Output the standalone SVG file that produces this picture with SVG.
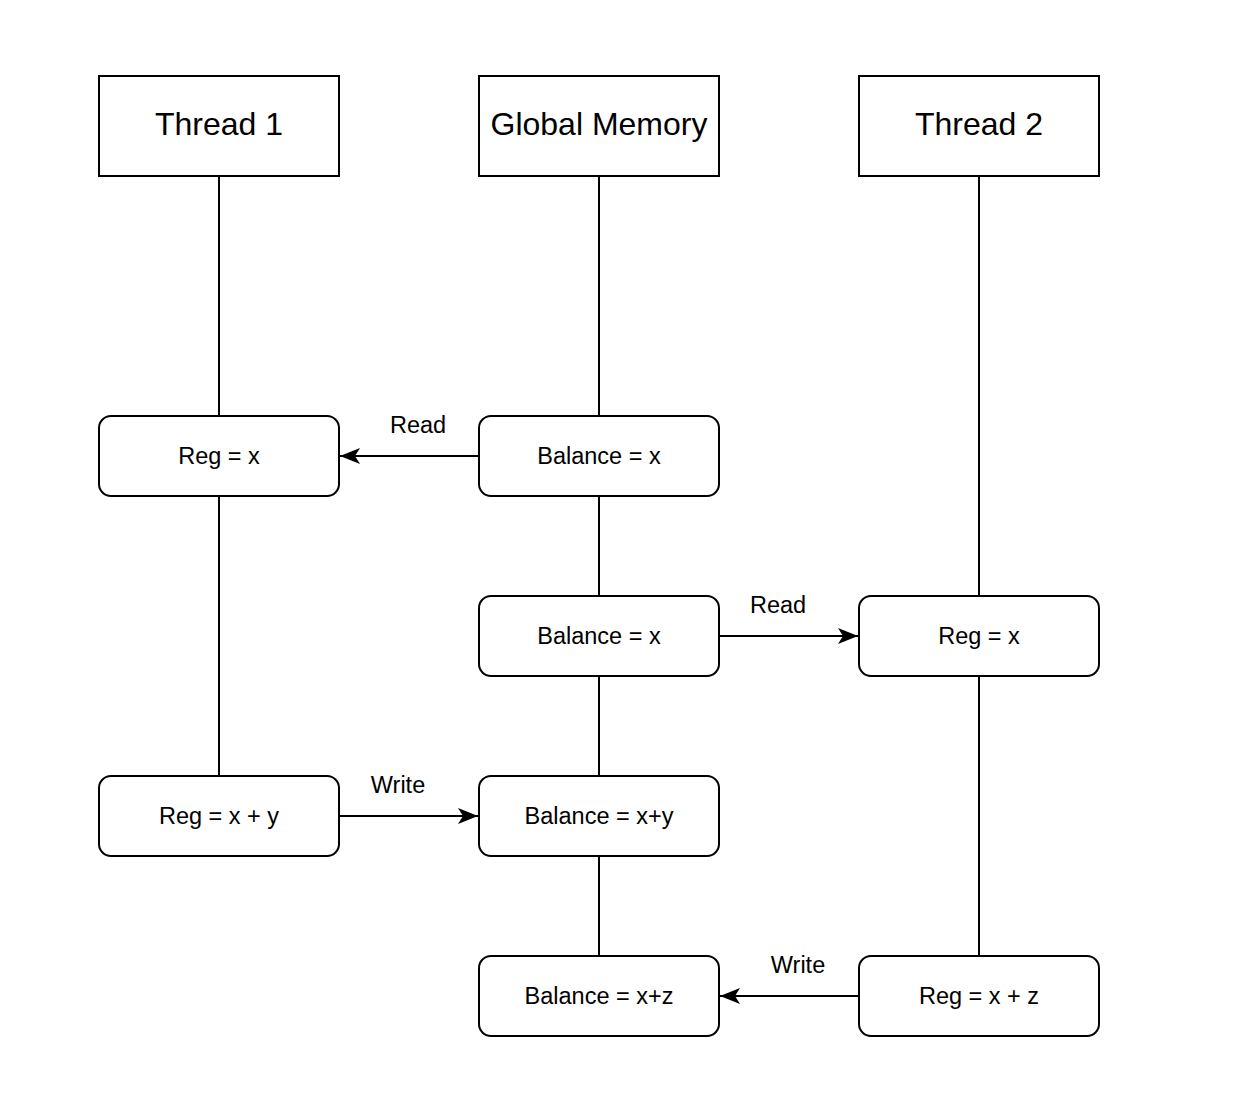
<svg xmlns="http://www.w3.org/2000/svg" width="1240" height="1096" viewBox="0 0 1240 1096">
<style>
.hdr{fill:#fff;stroke:#000;stroke-width:2}
.box{fill:#fff;stroke:#000;stroke-width:2}
.ln{stroke:#000;stroke-width:2;fill:none}
text{font-family:"Liberation Sans",Arial,sans-serif;fill:#000;text-anchor:middle}
.ht{font-size:32px}
.bt{font-size:23.5px}
</style>
<defs>
<marker id="arr" viewBox="0 0 20 16" refX="20" refY="8" markerWidth="20" markerHeight="16" markerUnits="userSpaceOnUse" orient="auto">
<path d="M0,0 L20,8 L0,16 L5,8 Z" fill="#000"/>
</marker>
</defs>
<rect width="1240" height="1096" fill="#fff"/>
<g id="connectors">
<line class="ln" x1="219" y1="176" x2="219" y2="416"/>
<line class="ln" x1="219" y1="496" x2="219" y2="776"/>
<line class="ln" x1="599" y1="176" x2="599" y2="416"/>
<line class="ln" x1="599" y1="496" x2="599" y2="596"/>
<line class="ln" x1="599" y1="676" x2="599" y2="776"/>
<line class="ln" x1="599" y1="856" x2="599" y2="956"/>
<line class="ln" x1="979" y1="176" x2="979" y2="596"/>
<line class="ln" x1="979" y1="676" x2="979" y2="956"/>
<line class="ln" x1="479" y1="456" x2="340" y2="456" marker-end="url(#arr)"/>
<text class="bt" x="418" y="433">Read</text>
<line class="ln" x1="719" y1="636" x2="858" y2="636" marker-end="url(#arr)"/>
<text class="bt" x="778" y="613">Read</text>
<line class="ln" x1="339" y1="816" x2="478" y2="816" marker-end="url(#arr)"/>
<text class="bt" x="398" y="793">Write</text>
<line class="ln" x1="859" y1="996" x2="720" y2="996" marker-end="url(#arr)"/>
<text class="bt" x="798" y="973">Write</text>
</g>
<g id="thread1"><rect class="hdr" x="99" y="76" width="240" height="100"/><text class="ht" x="219" y="135">Thread 1</text></g>
<g id="global"><rect class="hdr" x="479" y="76" width="240" height="100"/><text class="ht" x="599" y="135">Global Memory</text></g>
<g id="thread2"><rect class="hdr" x="859" y="76" width="240" height="100"/><text class="ht" x="979" y="135">Thread 2</text></g>
<g id="t1reg1"><rect class="box" x="99" y="416" width="240" height="80" rx="12"/><text class="bt" x="219" y="464">Reg = x</text></g>
<g id="gm1"><rect class="box" x="479" y="416" width="240" height="80" rx="12"/><text class="bt" x="599" y="464">Balance = x</text></g>
<g id="gm2"><rect class="box" x="479" y="596" width="240" height="80" rx="12"/><text class="bt" x="599" y="644">Balance = x</text></g>
<g id="t2reg1"><rect class="box" x="859" y="596" width="240" height="80" rx="12"/><text class="bt" x="979" y="644">Reg = x</text></g>
<g id="t1reg2"><rect class="box" x="99" y="776" width="240" height="80" rx="12"/><text class="bt" x="219" y="824">Reg = x + y</text></g>
<g id="gm3"><rect class="box" x="479" y="776" width="240" height="80" rx="12"/><text class="bt" x="599" y="824">Balance = x+y</text></g>
<g id="gm4"><rect class="box" x="479" y="956" width="240" height="80" rx="12"/><text class="bt" x="599" y="1004">Balance = x+z</text></g>
<g id="t2reg2"><rect class="box" x="859" y="956" width="240" height="80" rx="12"/><text class="bt" x="979" y="1004">Reg = x + z</text></g>
</svg>
